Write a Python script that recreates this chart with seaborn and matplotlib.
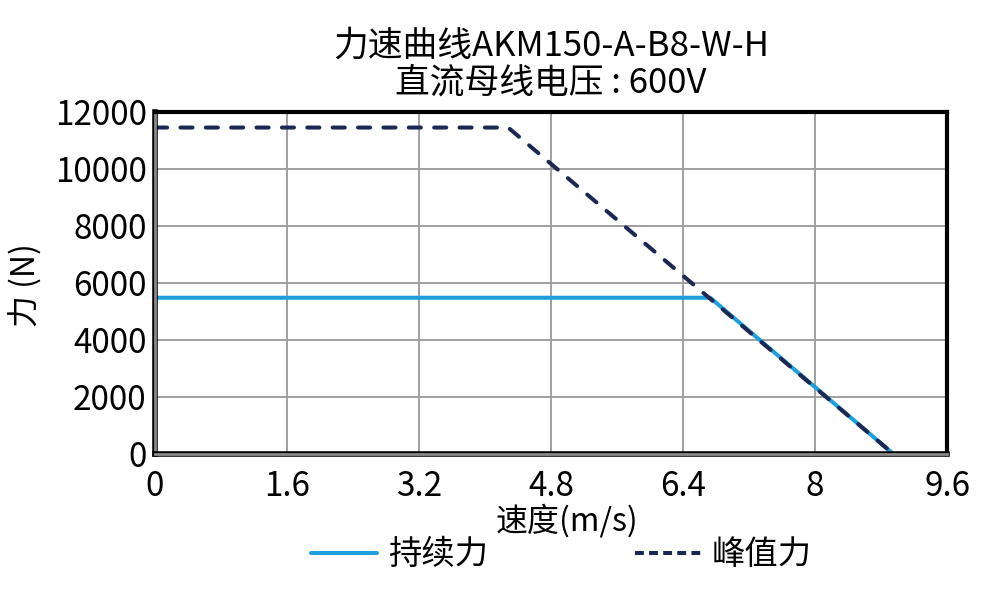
import matplotlib
matplotlib.use("Agg")
import matplotlib.pyplot as plt
import matplotlib.patheffects as pe
import seaborn as sns

# 力速曲线数据 (速度 m/s, 力 N)
cont_speed = [0, 6.73, 8.95]
cont_force = [5480, 5480, 0]
peak_speed = [0, 4.28, 8.95]
peak_force = [11450, 11450, 0]

x_ticks = [0, 1.6, 3.2, 4.8, 6.4, 8, 9.6]
x_tick_labels = ["0", "1.6", "3.2", "4.8", "6.4", "8", "9.6"]
y_ticks = [0, 2000, 4000, 6000, 8000, 10000, 12000]

sns.set_style("white", {'text.color': 'black', 'axes.labelcolor': 'black',
                        'xtick.color': 'black', 'ytick.color': 'black'})
plt.rcParams['font.family'] = ['Noto Sans CJK SC', 'DejaVu Sans']

fig = plt.figure(figsize=(9.9, 5.95), dpi=100)
ax = fig.add_axes([0.1566, 0.237, 0.8, 0.575])

sns.lineplot(x=cont_speed, y=cont_force, ax=ax, color='#1e9fdc', linewidth=2.9,
             label='持续力', sort=False)
sns.lineplot(x=peak_speed, y=peak_force, ax=ax, color='#1b2852', linewidth=2.9,
             label='峰值力', sort=False)
ax.lines[1].set_dashes([3.0, 3.3])
ax.lines[1].set_dash_capstyle('round')

ax.set_xlim(0, 9.6)
ax.set_ylim(0, 12000)
ax.set_xticks(x_ticks)
ax.set_xticklabels(x_tick_labels)
ax.set_yticks(y_ticks)
ax.tick_params(axis='both', labelsize=24, length=0, labelcolor='black')
ax.tick_params(axis='x', pad=11)
ax.tick_params(axis='y', pad=6)
ax.grid(True, color='#a0a0a0', linewidth=1.4)

for side in ['top', 'right']:
    ax.spines[side].set_color('black')
    ax.spines[side].set_linewidth(3)
for side in ['left', 'bottom']:
    ax.spines[side].set_color('#8a8a8a')
    ax.spines[side].set_linewidth(2)
    ax.spines[side].set_path_effects([pe.withStroke(linewidth=4, foreground='black')])

ax.set_title('力速曲线AKM150-A-B8-W-H\n直流母线电压 : 600V', fontsize=25,
             linespacing=1.05, pad=14, color='black')
ax.set_xlabel('速度(m/s)', fontsize=23, color='black')
ax.xaxis.set_label_coords(0.52, -0.145)
ax.set_ylabel('力 (N)', fontsize=23, color='black')
ax.yaxis.set_label_coords(-0.142, 0.495)

leg = ax.legend(loc='center', bbox_to_anchor=(0.513, -0.295), ncol=2, frameon=False,
                fontsize=24, handlelength=2.0, columnspacing=4.4, handletextpad=0.32,
                labelcolor='black')
leg.get_lines()[1].set_dashes([2.2, 1.3])
leg.get_lines()[1].set_dash_capstyle('butt')

fig.savefig('out.png', dpi=100)
